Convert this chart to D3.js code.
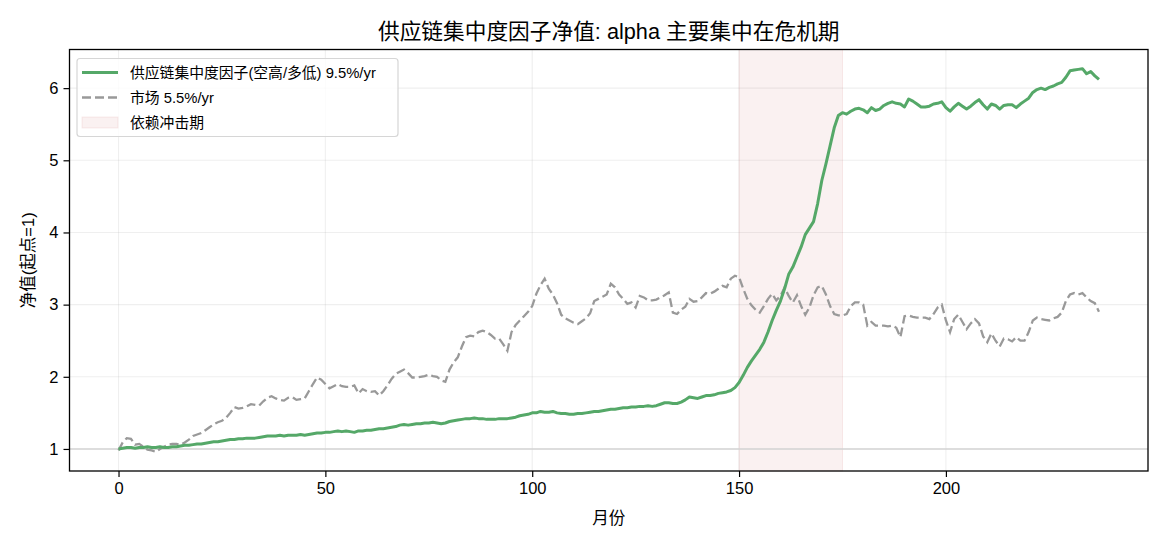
<!DOCTYPE html>
<html>
<head>
<meta charset="utf-8">
<script src="https://cdn.jsdelivr.net/npm/d3@7"></script>
<style>
  body { margin: 0; background: #fff; }
  svg text { font-family: "Liberation Sans", "Noto Sans CJK SC", sans-serif; fill: #000; }
</style>
</head>
<body>
<div id="chart"></div>
<script>
// net value of the supply-chain concentration factor (long low / short high), monthly
const factorNav = [
  1.00,1.01,1.02,1.02,1.01,1.02,1.02,1.03,1.02,1.02,1.03,1.02,1.02,1.03,1.03,1.04,
  1.05,1.05,1.06,1.07,1.07,1.08,1.09,1.10,1.10,1.11,1.12,1.13,1.13,1.14,1.14,1.15,
  1.15,1.15,1.16,1.17,1.18,1.18,1.18,1.19,1.18,1.19,1.19,1.19,1.20,1.19,1.20,1.21,
  1.22,1.22,1.23,1.23,1.24,1.25,1.24,1.25,1.24,1.23,1.25,1.25,1.26,1.26,1.27,1.28,
  1.28,1.29,1.30,1.31,1.33,1.34,1.33,1.34,1.35,1.35,1.36,1.36,1.37,1.36,1.35,1.36,
  1.38,1.39,1.40,1.41,1.42,1.42,1.43,1.42,1.42,1.41,1.41,1.41,1.42,1.42,1.42,1.43,
  1.44,1.46,1.47,1.48,1.50,1.50,1.52,1.51,1.51,1.52,1.50,1.49,1.49,1.48,1.48,1.49,
  1.49,1.50,1.51,1.52,1.52,1.53,1.54,1.55,1.55,1.56,1.57,1.57,1.58,1.58,1.59,1.59,
  1.60,1.59,1.60,1.62,1.64,1.64,1.63,1.63,1.65,1.68,1.72,1.71,1.70,1.72,1.74,1.74,
  1.75,1.77,1.78,1.79,1.81,1.85,1.92,2.02,2.13,2.22,2.30,2.38,2.48,2.62,2.78,2.92,
  3.05,3.22,3.42,3.52,3.66,3.80,3.97,4.06,4.15,4.40,4.72,4.95,5.20,5.45,5.62,5.66,
  5.64,5.68,5.71,5.72,5.70,5.66,5.73,5.69,5.71,5.76,5.79,5.81,5.79,5.78,5.74,5.85,
  5.82,5.78,5.74,5.74,5.75,5.78,5.79,5.81,5.73,5.68,5.74,5.79,5.75,5.71,5.75,5.80,
  5.84,5.77,5.71,5.78,5.76,5.71,5.76,5.77,5.77,5.73,5.78,5.82,5.86,5.94,5.98,6.00,
  5.98,6.01,6.03,6.06,6.08,6.15,6.24,6.25,6.26,6.27,6.20,6.23,6.17,6.12
];

// market net value
const marketNav = [
  0.98,1.09,1.15,1.14,1.06,1.07,1.03,0.99,0.98,0.96,1.00,1.03,1.06,1.07,1.07,1.06,
  1.09,1.13,1.18,1.20,1.22,1.26,1.30,1.34,1.37,1.39,1.43,1.50,1.58,1.56,1.57,1.59,
  1.62,1.61,1.60,1.66,1.71,1.73,1.70,1.68,1.67,1.71,1.72,1.68,1.69,1.70,1.80,1.90,
  1.99,1.96,1.90,1.84,1.87,1.90,1.87,1.86,1.86,1.88,1.77,1.83,1.80,1.79,1.80,1.74,
  1.80,1.88,1.97,2.04,2.07,2.10,2.05,1.99,1.99,2.00,2.01,2.03,2.01,2.00,1.95,1.93,
  2.10,2.20,2.27,2.42,2.55,2.57,2.56,2.62,2.64,2.62,2.58,2.53,2.53,2.45,2.36,2.62,
  2.72,2.78,2.84,2.90,2.98,3.15,3.27,3.36,3.22,3.14,3.02,2.86,2.81,2.78,2.75,2.73,
  2.77,2.81,2.88,3.05,3.08,3.11,3.14,3.29,3.24,3.14,3.08,3.01,3.03,2.96,3.12,3.10,
  3.06,3.06,3.07,3.10,3.13,3.17,2.89,2.87,2.93,2.97,3.08,3.04,3.05,3.10,3.16,3.15,
  3.18,3.22,3.26,3.24,3.36,3.40,3.38,3.22,3.08,2.99,2.93,2.89,2.98,3.08,3.15,3.06,
  3.12,3.24,3.12,3.03,3.13,2.98,2.86,2.96,3.13,3.24,3.26,3.14,2.98,2.87,2.85,2.85,
  2.87,2.98,3.03,3.03,3.00,2.71,2.76,2.71,2.71,2.71,2.70,2.71,2.68,2.55,2.84,2.85,
  2.83,2.82,2.82,2.82,2.80,2.87,2.96,3.00,2.78,2.62,2.80,2.86,2.76,2.66,2.74,2.80,
  2.74,2.56,2.48,2.60,2.50,2.42,2.53,2.52,2.49,2.55,2.50,2.50,2.62,2.78,2.82,2.80,
  2.79,2.78,2.81,2.83,2.89,3.05,3.14,3.16,3.14,3.16,3.10,3.05,3.02,2.90
];

const crisisWindow = [150, 175];
const xTicks = [0, 50, 100, 150, 200];
const yTicks = [1, 2, 3, 4, 5, 6];
const seriesNames = ["供应链集中度因子(空高/多低) 9.5%/yr", "市场 5.5%/yr", "依赖冲击期"];

const W = 1170, H = 546;
const plot = { left: 69.5, right: 1148, top: 49.5, bottom: 471 };

const svg = d3.select("#chart").append("svg")
  .attr("width", W).attr("height", H);

const n = factorNav.length;
const xMin = 0, xMax = n - 1;
const xPad = (xMax - xMin) * 0.05;
const x = d3.scaleLinear()
  .domain([xMin - xPad, xMax + xPad])
  .range([plot.left, plot.right]);

const allVals = factorNav.concat(marketNav);
const yLo = d3.min(allVals), yHi = d3.max(allVals);
const yPad = (yHi - yLo) * 0.05;
const y = d3.scaleLinear()
  .domain([yLo - yPad, yHi + yPad])
  .range([plot.bottom, plot.top]);

// grid
const grid = svg.append("g");
grid.selectAll(".gx").data(xTicks).enter().append("line")
  .attr("x1", d => x(d)).attr("x2", d => x(d))
  .attr("y1", plot.top).attr("y2", plot.bottom)
  .attr("stroke", "#b0b0b0").attr("stroke-opacity", 0.2).attr("stroke-width", 1.1);
grid.selectAll(".gy").data(yTicks).enter().append("line")
  .attr("x1", plot.left).attr("x2", plot.right)
  .attr("y1", d => y(d)).attr("y2", d => y(d))
  .attr("stroke", "#b0b0b0").attr("stroke-opacity", 0.2).attr("stroke-width", 1.1);

// crisis shading
svg.append("rect")
  .attr("x", x(crisisWindow[0]))
  .attr("y", plot.top)
  .attr("width", x(crisisWindow[1]) - x(crisisWindow[0]))
  .attr("height", plot.bottom - plot.top)
  .attr("fill", "#c44e52").attr("fill-opacity", 0.08)
  .attr("stroke", "#c44e52").attr("stroke-opacity", 0.1);

// baseline at 1
svg.append("line")
  .attr("x1", plot.left).attr("x2", plot.right)
  .attr("y1", y(1)).attr("y2", y(1))
  .attr("stroke", "#d4d4d4").attr("stroke-width", 1.6);

const line = d3.line().x((d, i) => x(i)).y(d => y(d));

svg.append("path")
  .datum(marketNav)
  .attr("d", line)
  .attr("fill", "none")
  .attr("stroke", "#999999")
  .attr("stroke-width", 2.3)
  .attr("stroke-dasharray", "9,4");

svg.append("path")
  .datum(factorNav)
  .attr("d", line)
  .attr("fill", "none")
  .attr("stroke", "#55a868")
  .attr("stroke-width", 3)
  .attr("stroke-linejoin", "round");

// axes
const xAxis = d3.axisBottom(x).tickValues(xTicks).tickSize(6).tickPadding(5);
const yAxis = d3.axisLeft(y).tickValues(yTicks).tickFormat(d3.format("d")).tickSize(6).tickPadding(5);

svg.append("g")
  .attr("transform", `translate(0,${plot.bottom})`)
  .call(xAxis)
  .call(g => g.select(".domain").remove())
  .call(g => g.selectAll("text").attr("font-size", 16.5).attr("font-family", null))
  .call(g => g.selectAll("line").attr("stroke", "#000").attr("stroke-width", 1.2));

svg.append("g")
  .attr("transform", `translate(${plot.left},0)`)
  .call(yAxis)
  .call(g => g.select(".domain").remove())
  .call(g => g.selectAll("text").attr("font-size", 16.5).attr("font-family", null))
  .call(g => g.selectAll("line").attr("stroke", "#000").attr("stroke-width", 1.2));

// frame
svg.append("rect")
  .attr("x", plot.left).attr("y", plot.top)
  .attr("width", plot.right - plot.left).attr("height", plot.bottom - plot.top)
  .attr("fill", "none").attr("stroke", "#000").attr("stroke-width", 1.3);

// labels
const cx = (plot.left + plot.right) / 2;
svg.append("text")
  .attr("x", cx).attr("y", 39)
  .attr("text-anchor", "middle")
  .attr("font-size", 21.7)
  .text("供应链集中度因子净值: alpha 主要集中在危机期");

svg.append("text")
  .attr("x", cx).attr("y", 524)
  .attr("text-anchor", "middle")
  .attr("font-size", 16.5)
  .text("月份");

svg.append("text")
  .attr("transform", `translate(34,${(plot.top + plot.bottom) / 2}) rotate(-90)`)
  .attr("text-anchor", "middle")
  .attr("font-size", 16.5)
  .text("净值(起点=1)");

// legend
const legend = svg.append("g");
legend.append("rect")
  .attr("x", 77).attr("y", 58.5)
  .attr("width", 321).attr("height", 78)
  .attr("rx", 3)
  .attr("fill", "#fff").attr("fill-opacity", 0.8)
  .attr("stroke", "#d6d6d6").attr("stroke-width", 1.2);

const rowY = [72.5, 97.5, 122.5];
legend.append("line")
  .attr("x1", 82).attr("x2", 118).attr("y1", rowY[0]).attr("y2", rowY[0])
  .attr("stroke", "#55a868").attr("stroke-width", 3);
legend.append("line")
  .attr("x1", 82).attr("x2", 118).attr("y1", rowY[1]).attr("y2", rowY[1])
  .attr("stroke", "#999999").attr("stroke-width", 2.3)
  .attr("stroke-dasharray", "9,4");
legend.append("rect")
  .attr("x", 82).attr("y", rowY[2] - 5.5)
  .attr("width", 36).attr("height", 11)
  .attr("fill", "#c44e52").attr("fill-opacity", 0.08)
  .attr("stroke", "#c44e52").attr("stroke-opacity", 0.1);

legend.selectAll(".lt").data(seriesNames).enter().append("text")
  .attr("x", 130)
  .attr("y", (d, i) => rowY[i])
  .attr("dy", "0.36em")
  .attr("font-size", 14.8)
  .text(d => d);
</script>
</body>
</html>
